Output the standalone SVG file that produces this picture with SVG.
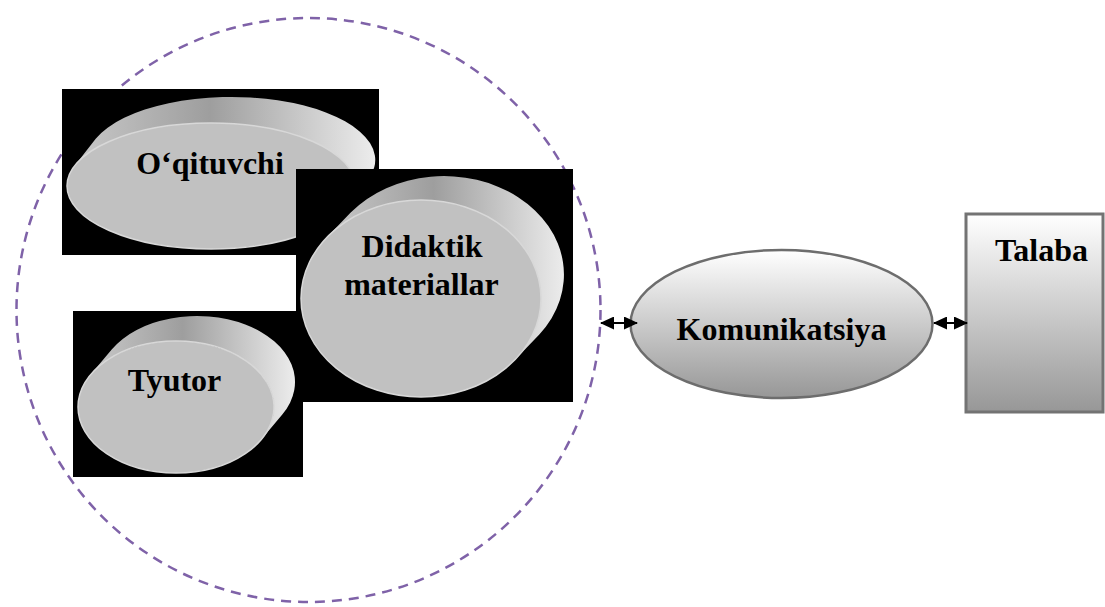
<svg xmlns="http://www.w3.org/2000/svg" width="1105" height="607" viewBox="0 0 1105 607">
<style>
.bg{fill:#000000}
.face{fill:#c1c1c1;stroke:#d8d8d8;stroke-width:1.5}
.side{fill:url(#sideG)}
.lbl{font-family:'Liberation Serif','Times New Roman',serif;font-weight:bold;font-size:32px;fill:#000;text-anchor:middle}
.dash{fill:none;stroke:#7f62a8;stroke-width:2.5;stroke-dasharray:10 7}
.conn{stroke:#000;stroke-width:2;fill:none;marker-start:url(#ah);marker-end:url(#ah)}
</style>
<defs>
<linearGradient id="sideG" x1="0" y1="0" x2="1" y2="0">
<stop offset="0" stop-color="#c8c8c8"/>
<stop offset="0.45" stop-color="#9e9e9e"/>
<stop offset="1" stop-color="#ececec"/>
</linearGradient>
<linearGradient id="vG" x1="0" y1="0" x2="0" y2="1">
<stop offset="0" stop-color="#ffffff"/>
<stop offset="1" stop-color="#979797"/>
</linearGradient>
<marker id="ah" viewBox="0 0 14 13" refX="13" refY="6.5" markerWidth="14" markerHeight="13" markerUnits="userSpaceOnUse" orient="auto-start-reverse">
<path d="M0,0 L14,6.5 L0,13 Z" fill="#000"/>
</marker>
</defs>

<g id="boundary">
<circle class="dash" cx="308.5" cy="310" r="292"/>
</g>

<g id="node-oqituvchi">
<rect class="bg" x="62" y="89" width="317" height="166"/>
<path class="side" d="M74.7,165.7 L95.7,138.7 A144,63 0 0 1 368.3,179.3 L347.3,206.3 A144,63 0 0 0 74.7,165.7 Z"/>
<ellipse class="face" cx="211" cy="186" rx="144" ry="63"/>
<text class="lbl" font-family="Liberation Serif, serif" x="210" y="174">O‘qituvchi</text>
</g>

<g id="node-tyutor">
<rect class="bg" x="73" y="311" width="230" height="166"/>
<path class="side" d="M90.7,374.5 L111.7,349.5 A98,66 0 0 1 282.3,414.5 L261.3,439.5 A98,66 0 0 0 90.7,374.5 Z"/>
<ellipse class="face" cx="176" cy="407" rx="98" ry="66"/>
<text class="lbl" font-family="Liberation Serif, serif" x="174.5" y="391">Tyutor</text>
</g>

<g id="node-didaktik">
<rect class="bg" x="296" y="169" width="277" height="233"/>
<path class="side" d="M326.7,237.6 L350.7,212.6 A120,98.5 0 0 1 539.3,334.4 L515.3,359.4 A120,98.5 0 0 0 326.7,237.6 Z"/>
<ellipse class="face" cx="421" cy="298.5" rx="120" ry="98.5"/>
<text class="lbl" font-family="Liberation Serif, serif" x="422" y="257">Didaktik</text>
<text class="lbl" font-family="Liberation Serif, serif" x="421.5" y="295">materiallar</text>
</g>

<g id="node-komunikatsiya">
<ellipse cx="781.5" cy="324" rx="151" ry="74" fill="url(#vG)" stroke="#6d6d6d" stroke-width="2.5"/>
<text class="lbl" font-family="Liberation Serif, serif" x="781.5" y="340">Komunikatsiya</text>
</g>

<g id="node-talaba">
<rect x="966" y="214" width="137" height="198" fill="url(#vG)" stroke="#737373" stroke-width="3"/>
<text class="lbl" font-family="Liberation Serif, serif" x="1041.5" y="261">Talaba</text>
</g>

<g id="connectors">
<path class="conn" d="M601,323 L637,323"/>
<path class="conn" d="M934,323 L967,323"/>
</g>
</svg>
